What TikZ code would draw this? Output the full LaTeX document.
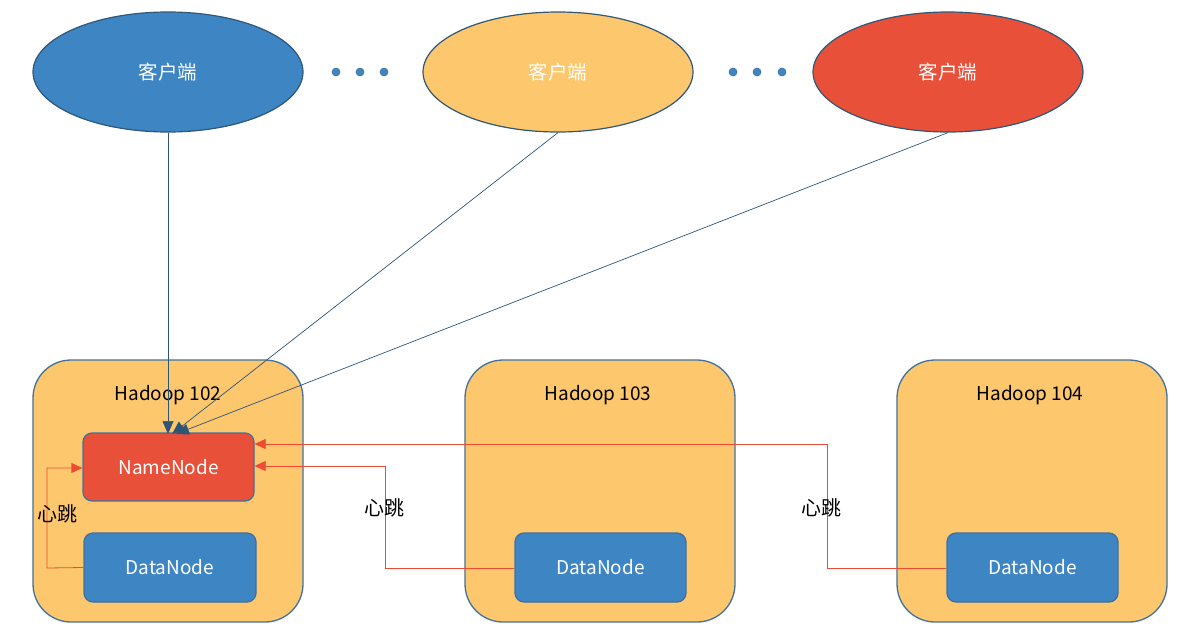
\documentclass[tikz,border=0pt]{standalone}
\usepackage{fontspec}
\setmainfont{Noto Sans CJK SC}
\usetikzlibrary{shapes.geometric,arrows.meta}
\definecolor{cblue}{HTML}{3D85C3}
\definecolor{corange}{HTML}{FDC76E}
\definecolor{cred}{HTML}{E9503A}
\definecolor{cborder}{HTML}{2F5878}
\definecolor{bborder}{HTML}{41719C}
\definecolor{lred}{HTML}{EE4B35}
\definecolor{adark}{HTML}{2E5576}
\begin{document}
\begin{tikzpicture}[x=1pt,y=-1pt,
  client/.style={ellipse,draw=cborder,line width=1.2pt,minimum width=270pt,minimum height=120pt,inner sep=0pt,text=white,font=\fontsize{19.5}{22}\selectfont},
  host/.style={draw=bborder,line width=1.3pt,fill=corange,rounded corners=38pt},
  inner/.style={draw=bborder,line width=1.3pt,rounded corners=9pt,text=white,font=\fontsize{19}{22}\selectfont,inner sep=0pt},
  hlabel/.style={text=black,font=\fontsize{19}{22}\selectfont},
  dot/.style={circle,fill=cblue,draw=bborder,line width=0.6pt,minimum size=8pt,inner sep=0pt},
  hb/.style={draw=lred,line width=0.8pt,-{Triangle[length=11pt,width=10pt]}},
  cl/.style={draw=adark,line width=0.7pt,-{Triangle[length=13pt,width=11pt]}},
  hbl/.style={text=black,font=\fontsize{20}{22}\selectfont}]
\useasboundingbox (0,0) rectangle (1185,640);
% hosts
\draw[host] (33,360) rectangle (303,622);
\draw[host] (465,360) rectangle (735,622);
\draw[host] (897,360) rectangle (1167,622);
\node[hlabel] (h1) at (168,395) {Hadoop 102};
\node[hlabel] (h2) at (598,395) {Hadoop 103};
\node[hlabel] (h3) at (1030,395) {Hadoop 104};
% inner nodes
\node[inner,fill=cred,minimum width=171pt,minimum height=68pt] (nn) at (168.5,467) {NameNode};
\node[inner,fill=cblue,minimum width=172pt,minimum height=69pt] (d1) at (170,567.5) {DataNode};
\node[inner,fill=cblue,minimum width=171pt,minimum height=69pt] (d2) at (600.5,567.5) {DataNode};
\node[inner,fill=cblue,minimum width=171pt,minimum height=69pt] (d3) at (1032.5,567.5) {DataNode};
% clients
\node[client,fill=cblue] (c1) at (168,72) {客户端};
\node[client,fill=corange] (c2) at (558,72) {客户端};
\node[client,fill=cred] (c3) at (948,72) {客户端};
% dots
\node[dot] (p1) at (336,72) {};
\node[dot] (p2) at (360,72) {};
\node[dot] (p3) at (384,72) {};
\node[dot] (p4) at (733,72) {};
\node[dot] (p5) at (757,72) {};
\node[dot] (p6) at (782,72) {};
% client connectors
\coordinate (t1) at (168,434);
\coordinate (t2) at (172,434);
\coordinate (t3) at (176,434);
\draw[cl] (c1.south) -- (t1);
\draw[cl] (c2.south) -- (t2);
\draw[cl] (c3.south) -- (t3);
% heartbeats
\draw[hb] (d1.west) -- (47,568) -- (47,468) -- (nn.west |- 0,468);
\draw[hb] (d2.west |- 0,568) -- (385,568) -- (385,466) -- (nn.east |- 0,466);
\draw[hb] (d3.west |- 0,568) -- (827,568) -- (827,444) -- (nn.east |- 0,444);
\node[hbl] (l1) at (57,514) {心跳};
\node[hbl] (l2) at (384,508) {心跳};
\node[hbl] (l3) at (821,508) {心跳};
\end{tikzpicture}
\end{document}
